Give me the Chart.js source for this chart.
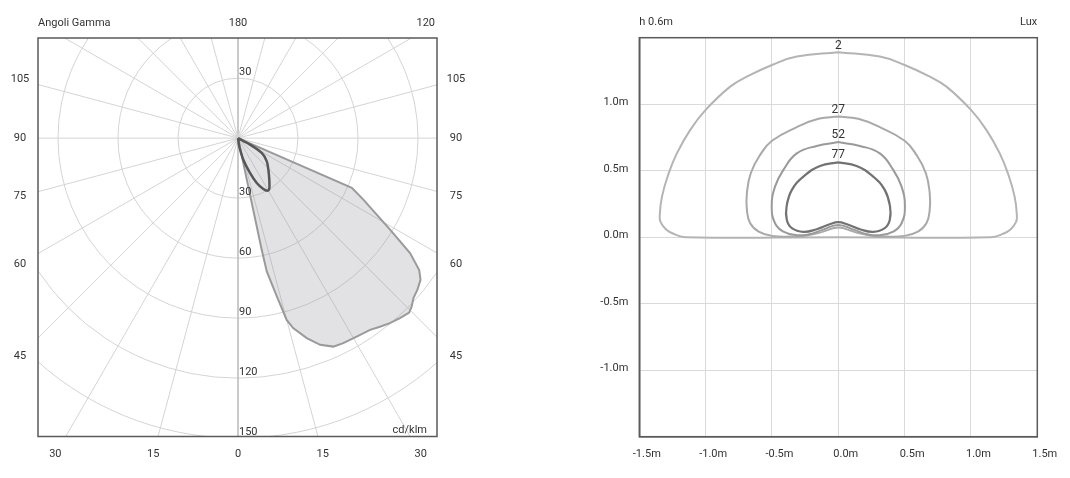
<!DOCTYPE html>
<html>
<head>
<meta charset="utf-8">
<script src="https://cdn.jsdelivr.net/npm/chart.js@4.4.1/dist/chart.umd.min.js"></script>
<style>
  html, body { margin: 0; padding: 0; background: #fff; }
  #wrap { position: relative; width: 1070px; height: 478px; }
  #polar { position: absolute; left: 0; top: 0; }
  #isolux { position: absolute; left: 535px; top: 0; }
</style>
</head>
<body>
<div id="wrap">
  <canvas id="polar" width="535" height="478"></canvas>
  <canvas id="isolux" width="535" height="478"></canvas>
</div>
<script>
// ---- polar diagram (gamma angle in degrees from nadir, intensity in cd/klm)
const fillGamma = [66.4, 66.4, 63.9, 59.0, 56.3, 54.0, 52.2, 49.8, 47.7, 45.9, 44.5, 42.0, 39.4, 37.0, 34.6, 30.9, 27.2, 24.6, 21.7, 19.0, 16.2, 15.0, 13.8, 12.2, 12.0, 12.0];
const fillIntensity = [0, 62.1, 69.8, 88.7, 103.4, 112.0, 115.5, 117.4, 118.6, 120.9, 122.1, 121.0, 119.6, 117.9, 116.3, 115.5, 115.1, 114.5, 111.1, 105.6, 98.8, 94.0, 81.4, 68.1, 57.0, 0];
const darkGamma = [61.6, 61.6, 58.0, 51.1, 43.9, 37.0, 31.6, 29.2, 26.5, 22.7, 19.0, 13.9, 9.0, 9.0];
const darkIntensity = [0, 6.8, 14.0, 18.5, 21.9, 26.0, 29.8, 30.1, 28.4, 24.3, 18.4, 11.1, 4.2, 0];

const ringValues = [30, 60, 90, 120, 150];
const gammaBottom = [-30, -15, 0, 15, 30];
const gammaSides = [45, 60, 75, 90, 105];
const topLabels = ["Angoli Gamma", "180", "120"];
const polarUnit = "cd/klm";

// ---- isolux diagram, right half of each curve (x, y in metres)
const isoLevels = [2, 27, 52, 77];
const isoLabelY = [1.44, 0.96, 0.77, 0.62];
const iso2 = [[0, 1.39], [0.313, 1.358], [0.5, 1.295], [0.69, 1.207], [0.815, 1.132], [1.0, 0.957], [1.116, 0.807], [1.216, 0.632], [1.278, 0.481], [1.329, 0.305], [1.346, 0.16], [1.34, 0.115], [1.3, 0.06], [1.24, 0.025], [1.15, 0.0], [0, 0]];
const iso27 = [[0, 0.907], [0.15, 0.89], [0.313, 0.827], [0.5, 0.725], [0.589, 0.619], [0.66, 0.481], [0.689, 0.331], [0.689, 0.205], [0.664, 0.105], [0.6, 0.042], [0.5, 0.01], [0.35, 0.005], [0.24, 0.012], [0.12, 0.04], [0, 0.072]];
const iso52 = [[0, 0.715], [0.163, 0.686], [0.313, 0.63], [0.414, 0.506], [0.477, 0.38], [0.502, 0.23], [0.477, 0.105], [0.414, 0.042], [0.313, 0.015], [0.22, 0.022], [0.12, 0.055], [0, 0.092]];
const iso77 = [[0, 0.563], [0.138, 0.536], [0.263, 0.456], [0.35, 0.356], [0.39, 0.23], [0.388, 0.13], [0.35, 0.068], [0.263, 0.04], [0.163, 0.06], [0.07, 0.095], [0, 0.113]];
const isoTicks = [-1.5, -1.0, -0.5, 0, 0.5, 1.0, 1.5];
const isoHeight = "h 0.6m";
const isoUnit = "Lux";

const FONT = "Roboto, 'Noto Sans', sans-serif";
Chart.defaults.font.family = FONT;
Chart.defaults.font.size = 11;
Chart.defaults.color = "#333";

function toXY(g, r) {
  const a = g * Math.PI / 180;
  return { x: r * Math.sin(a), y: -r * Math.cos(a) };
}

// mirror the right half to get a closed contour
function closeLoop(half) {
  const right = half.map(([x, y]) => ({ x, y }));
  const left = half.slice(0, -1).reverse().map(([x, y]) => ({ x: -x, y }));
  return right.concat(left);
}

const frame = {
  id: "frame",
  afterDraw(chart) {
    const { ctx, chartArea: a } = chart;
    ctx.save();
    ctx.strokeStyle = "#5a5a5a";
    ctx.lineWidth = 1.5;
    ctx.strokeRect(a.left, a.top, a.width, a.height);
    ctx.restore();
  },
};

const polarGrid = {
  id: "polarGrid",
  beforeDatasetsDraw(chart) {
    const { ctx, chartArea: a, scales: { x, y } } = chart;
    const cx = x.getPixelForValue(0), cy = y.getPixelForValue(0);
    const unit = x.getPixelForValue(1) - cx;
    ctx.save();
    ctx.beginPath();
    ctx.rect(a.left, a.top, a.width, a.height);
    ctx.clip();
    ctx.strokeStyle = "#d4d4d4";
    ctx.lineWidth = 1;
    ringValues.forEach((r) => {
      ctx.beginPath();
      ctx.arc(cx, cy, r * unit, 0, Math.PI * 2);
      ctx.stroke();
    });
    for (let g = 0; g < 180; g += 15) {
      const p = toXY(g, 400);
      ctx.beginPath();
      ctx.moveTo(cx - p.x * unit, cy - p.y * unit);
      ctx.lineTo(cx + p.x * unit, cy + p.y * unit);
      ctx.strokeStyle = g === 0 ? "#bdbdbd" : "#d4d4d4";
      ctx.lineWidth = g === 0 ? 1.6 : 1;
      ctx.stroke();
    }
    ctx.restore();
  },
  afterDraw(chart) {
    const { ctx, chartArea: a, scales: { x, y } } = chart;
    const cx = x.getPixelForValue(0), cy = y.getPixelForValue(0);
    const unit = x.getPixelForValue(1) - cx;
    ctx.save();
    ctx.font = "11px " + FONT;
    ctx.fillStyle = "#333";
    ctx.textBaseline = "middle";

    // ring values along the vertical axis
    ctx.textAlign = "left";
    ctx.fillText(String(ringValues[0]), cx + 1, cy - ringValues[0] * unit - 6);
    ringValues.forEach((r) => ctx.fillText(String(r), cx + 1, cy + r * unit - 6));

    // angle labels where the rays leave the frame
    ctx.textAlign = "center";
    const by = a.bottom + 18;
    gammaBottom.forEach((g) => {
      const t = Math.tan(Math.abs(g) * Math.PI / 180);
      const px = cx + Math.sign(g) * (by - cy) * t;
      ctx.fillText(String(Math.abs(g)), px, by);
    });
    const sx = 218;
    gammaSides.forEach((g) => {
      const a2 = g * Math.PI / 180;
      const py = cy + sx * Math.cos(a2) / Math.sin(a2);
      ctx.fillText(String(g), cx + sx, py);
      ctx.fillText(String(g), cx - sx, py);
    });
    const ty = a.top - 15;
    ctx.textAlign = "left";
    ctx.fillText(topLabels[0], a.left, ty);
    ctx.textAlign = "center";
    ctx.fillText(topLabels[1], cx, ty);
    ctx.textAlign = "right";
    ctx.fillText(topLabels[2], a.right - 2, ty);
    ctx.fillText(polarUnit, a.right - 10, a.bottom - 6);
    ctx.restore();
  },
};

new Chart(document.getElementById("polar"), {
  type: "scatter",
  data: {
    datasets: [
      {
        data: darkGamma.map((g, i) => toXY(g, darkIntensity[i])),
        showLine: true,
        borderColor: "#575757",
        borderWidth: 2.5,
        pointRadius: 0,
        tension: 0.3,
        fill: false,
      },
      {
        data: fillGamma.map((g, i) => toXY(g, fillIntensity[i])),
        showLine: true,
        borderColor: "#9a9a9a",
        borderWidth: 2,
        backgroundColor: "rgba(150,150,160,0.28)",
        fill: "shape",
        pointRadius: 0,
        tension: 0,
      },
    ],
  },
  options: {
    responsive: false,
    animation: false,
    layout: { padding: { left: 38, right: 98, top: 38, bottom: 41.5 } },
    scales: {
      x: { display: false, min: -100, max: 99.5 },
      y: { display: false, min: -149, max: 50 },
    },
    plugins: { legend: { display: false }, tooltip: { enabled: false } },
  },
  plugins: [polarGrid, frame],
});

const isoColors = ["#b4b4b4", "#a9a9a9", "#9a9a9a", "#727272"];
const isoCurves = [iso2, iso27, iso52, iso77];

const isoLabels = {
  id: "isoLabels",
  afterDraw(chart) {
    const { ctx, chartArea: a, scales: { x, y } } = chart;
    ctx.save();
    ctx.fillStyle = "#333";
    ctx.textBaseline = "middle";
    ctx.textAlign = "center";
    ctx.font = "12px " + FONT;
    isoLevels.forEach((lv, i) => {
      ctx.fillText(String(lv), x.getPixelForValue(0), y.getPixelForValue(isoLabelY[i]));
    });
    ctx.font = "11px " + FONT;
    ctx.textAlign = "left";
    ctx.fillText(isoHeight, a.left, a.top - 15);
    ctx.textAlign = "right";
    ctx.fillText(isoUnit, a.right, a.top - 15);
    ctx.restore();
  },
};

new Chart(document.getElementById("isolux"), {
  type: "scatter",
  data: {
    datasets: isoCurves
      .map((c, i) => ({
        data: closeLoop(c),
        showLine: true,
        borderColor: isoColors[i],
        borderWidth: i === 3 ? 2.2 : 2,
        pointRadius: 0,
        tension: 0.45,
        fill: false,
      }))
      .reverse(),
  },
  options: {
    responsive: false,
    animation: false,
    layout: { padding: { left: 0, right: 32.7, top: 37.7, bottom: 0 } },
    scales: {
      x: {
        min: isoTicks[0],
        max: isoTicks[isoTicks.length - 1],
        afterBuildTicks(s) { s.ticks = isoTicks.map((v) => ({ value: v })); },
        ticks: { callback: (v) => v.toFixed(1) + "m", padding: 11, labelOffset: 7.5, maxRotation: 0, autoSkip: false },
        grid: { color: "#dadada", drawTicks: false },
        border: { color: "#5a5a5a", width: 1.5 },
        afterFit(s) { s.height = 41.3; },
      },
      y: {
        min: isoTicks[0],
        max: isoTicks[isoTicks.length - 1],
        afterBuildTicks(s) { s.ticks = isoTicks.map((v) => ({ value: v })); },
        ticks: {
          callback: (v) => (Math.abs(v) === 1.5 ? "" : v.toFixed(1) + "m"),
          padding: 11,
          labelOffset: -1.5,
          autoSkip: false,
        },
        grid: { color: "#dadada", drawTicks: false },
        border: { color: "#5a5a5a", width: 1.5 },
        afterFit(s) { s.width = 104.3; },
      },
    },
    plugins: { legend: { display: false }, tooltip: { enabled: false } },
  },
  plugins: [isoLabels, frame],
});
</script>
</body>
</html>
